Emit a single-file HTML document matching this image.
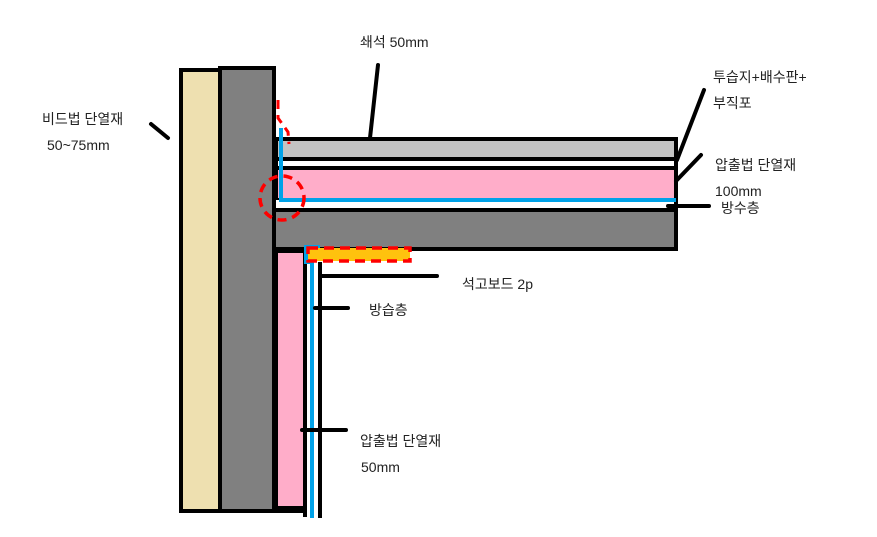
<!DOCTYPE html>
<html><head><meta charset="utf-8"><style>
body{margin:0;background:#fff}
svg{display:block}
text{font-family:"Liberation Sans","Noto Sans CJK KR",sans-serif;font-size:14px;fill:#222}
</style></head><body>
<svg width="877" height="537" viewBox="0 0 877 537">
<!-- walls -->
<rect x="181" y="70" width="39" height="441" fill="#eee0b0" stroke="#000" stroke-width="4"/>
<rect x="220" y="68" width="54" height="443" fill="#808080" stroke="#000" stroke-width="4"/>
<!-- slab layers -->
<rect x="276" y="139" width="400" height="20" fill="#c3c3c3" stroke="#000" stroke-width="4"/>
<rect x="276" y="159" width="400" height="9" fill="#fff" stroke="#000" stroke-width="4"/>
<rect x="276" y="168" width="400" height="32" fill="#ffadc9" stroke="#000" stroke-width="4"/>
<rect x="276" y="200" width="400" height="10" fill="#fff" stroke="none"/>
<line x1="676" y1="139" x2="676" y2="250" stroke="#000" stroke-width="4"/>
<rect x="274" y="210" width="402" height="39" fill="#808080" stroke="#000" stroke-width="4"/>
<!-- blue waterproof -->
<polyline points="281,128 281,200 676,200" fill="none" stroke="#00a2e8" stroke-width="4"/>
<!-- red dashed -->
<circle cx="282" cy="198" r="22" fill="none" stroke="#f00" stroke-width="3.5" stroke-dasharray="9,6"/>
<polyline points="278,100 278,118 288,132 289,144" fill="none" stroke="#f00" stroke-width="3" stroke-dasharray="9,6"/>
<!-- lower wall layers -->
<rect x="276" y="251" width="29" height="257" fill="#ffadc9" stroke="#000" stroke-width="4"/>
<line x1="305" y1="251" x2="305" y2="517" stroke="#000" stroke-width="4"/>
<polyline points="312,518 312,262 306,262 306,247 320,247" fill="none" stroke="#00a2e8" stroke-width="4"/>
<line x1="320" y1="262" x2="320" y2="518" stroke="#000" stroke-width="4"/>
<rect x="308" y="248" width="102" height="13" fill="#ffc20e" stroke="#f00" stroke-width="3.5" stroke-dasharray="10,6"/>
<line x1="181" y1="511" x2="305" y2="511" stroke="#000" stroke-width="4"/>
<!-- leaders -->
<g stroke="#000" stroke-width="4" stroke-linecap="round">
<line x1="378" y1="65" x2="370" y2="138"/>
<line x1="151" y1="124" x2="168" y2="138"/>
<line x1="704" y1="90" x2="677" y2="160"/>
<line x1="701" y1="155" x2="676" y2="181"/>
<line x1="668" y1="206" x2="709" y2="206"/>
<line x1="322" y1="276" x2="437" y2="276"/>
<line x1="315" y1="308" x2="348" y2="308"/>
<line x1="302" y1="430" x2="346" y2="430"/>
</g>
<!-- labels -->
<text x="360" y="47">쇄석 50mm</text>
<text x="713" y="82">투습지+배수판+</text>
<text x="713" y="108">부직포</text>
<text x="715" y="170">압출법 단열재</text>
<text x="715" y="196">100mm</text>
<text x="721" y="213">방수층</text>
<text x="42" y="124">비드법 단열재</text>
<text x="47" y="150">50~75mm</text>
<text x="462" y="289">석고보드 2p</text>
<text x="369" y="315">방습층</text>
<text x="360" y="446">압출법 단열재</text>
<text x="361" y="472">50mm</text>
</svg>
</body></html>
